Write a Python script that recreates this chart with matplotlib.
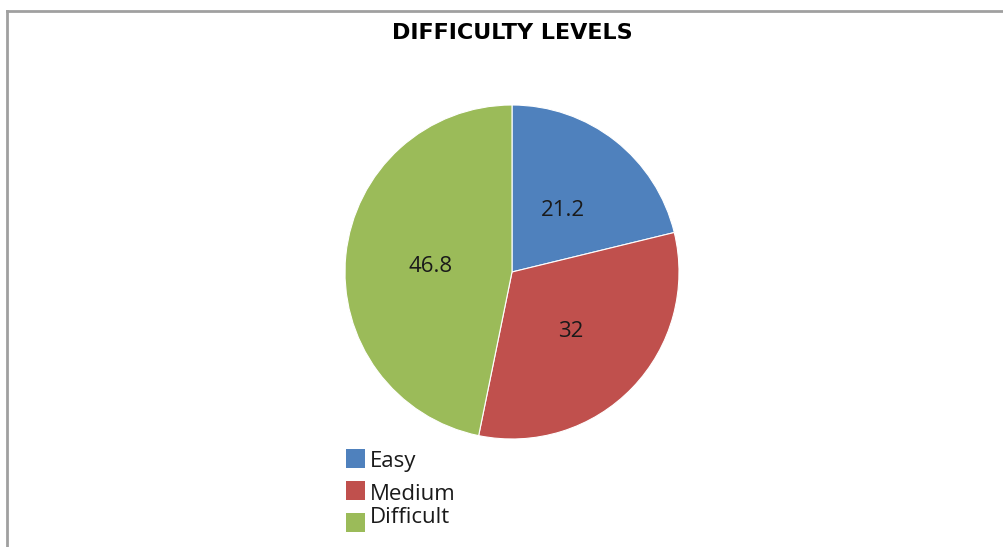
import numpy as np
import matplotlib
matplotlib.use("Agg")
import matplotlib.pyplot as plt
from matplotlib.patches import Rectangle
from matplotlib.lines import Line2D

categories = ["Easy", "Medium", "Difficult"]
values = [21.2, 32, 46.8]
value_labels = ["21.2", "32", "46.8"]
colors = ["#4F81BD", "#C0504D", "#9BBB59"]

W, H = 1004, 547
fig = plt.figure(figsize=(W / 100, H / 100), dpi=100)
fig.patch.set_facecolor("white")

# chart frame (top and left edges visible)
fig.add_artist(Line2D([7.5 / W, 7.5 / W], [0, 1 - 10.5 / H], transform=fig.transFigure,
                      color="#A0A0A0", lw=2))
fig.add_artist(Line2D([7.5 / W, 1], [1 - 10.5 / H, 1 - 10.5 / H], transform=fig.transFigure,
                      color="#A0A0A0", lw=2))

# pie axes: centre (512, 272), radius 167 px
cx, cy, r = 512, 272, 167
ax = fig.add_axes([(cx - r) / W, 1 - (cy + r) / H, 2 * r / W, 2 * r / H])
wedges, texts = ax.pie(values, colors=colors, startangle=90, counterclock=False,
                       labels=value_labels, labeldistance=0.49,
                       wedgeprops=dict(linewidth=0.8, edgecolor="white"),
                       textprops=dict(fontsize=16, family="Open Sans", color="#1a1a1a"))
for t in texts:
    t.set_ha("center")
    t.set_va("center_baseline")
ax.set_xlim(-1, 1)
ax.set_ylim(-1, 1)
ax.set_aspect("equal")

fig.text(512 / W, 1 - 39 / H, "DIFFICULTY LEVELS", ha="center", va="baseline",
         fontsize=16, fontweight="bold", family="DejaVu Sans", color="black")

# legend entries
sq_tops = [449, 481, 513]
baselines = [467, 500, 523]
for name, col, top, base in zip(categories, colors, sq_tops, baselines):
    fig.add_artist(Rectangle((346 / W, 1 - (top + 19) / H), 19 / W, 19 / H,
                             transform=fig.transFigure, facecolor=col, edgecolor="none"))
    fig.text(370 / W, 1 - base / H, name, ha="left", va="baseline", fontsize=16,
             family="Open Sans", color="#1a1a1a")

fig.savefig("out.png", dpi=100, facecolor="white")
